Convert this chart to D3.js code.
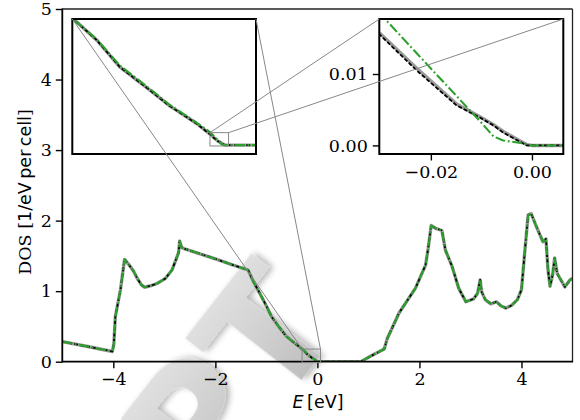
<!DOCTYPE html>
<html>
<head>
<meta charset="utf-8">
<script src="https://cdn.jsdelivr.net/npm/d3@7"></script>
<style>
  html, body { margin: 0; padding: 0; background: #fff; }
  svg { display: block; }
  .tick text { font-family: "DejaVu Serif", serif; font-size: 17.5px; fill: #000; }
  .tick line { stroke: #000; stroke-width: 1.4px; }
</style>
</head>
<body>
<svg id="chart" width="580" height="420"></svg>
<script>
// Energy grid (eV); finer spacing around the band edge at E = 0
const energy = [
  -5.00, -4.50, -4.02, -3.99, -3.96, -3.86, -3.78, -3.70, -3.60, -3.53,
  -3.45, -3.39, -3.25, -3.14, -2.98, -2.85, -2.77, -2.72, -2.70, -2.66,
  -2.60, -2.30, -1.97, -1.65, -1.36, -1.25, -1.13, -1.00, -0.90, -0.75,
  -0.61, -0.45, -0.35, -0.298, -0.252, -0.207, -0.148, -0.109, -0.057, -0.0301,
  -0.0228, -0.0149, -0.0103, -0.0076, -0.0057, -0.001, 0.000, 0.060, 0.85, 1.01,
  1.31, 1.37, 1.60, 1.92, 2.12, 2.17, 2.23, 2.32, 2.44, 2.51,
  2.64, 2.77, 2.91, 3.06, 3.14, 3.19, 3.22, 3.29, 3.40, 3.51,
  3.60, 3.70, 3.81, 3.92, 4.00, 4.05, 4.13, 4.19, 4.29, 4.42,
  4.48, 4.52, 4.56, 4.61, 4.65, 4.70, 4.85, 4.95, 5.00
];

// Reference DOS (grey, solid)
const dosReference = [
  0.285, 0.215, 0.145, 0.25, 0.64, 1.02, 1.45, 1.38, 1.28, 1.18,
  1.09, 1.055, 1.08, 1.11, 1.18, 1.30, 1.45, 1.55, 1.71, 1.62,
  1.60, 1.53, 1.45, 1.37, 1.30, 1.13, 0.97, 0.79, 0.64, 0.49,
  0.36, 0.265, 0.21, 0.179, 0.149, 0.111, 0.078, 0.0556, 0.031, 0.0157,
  0.0108, 0.0058, 0.0040, 0.0029, 0.00195, 0.0001, 0, 0, 0, 0.065,
  0.18, 0.33, 0.69, 1.04, 1.37, 1.60, 1.93, 1.89, 1.86, 1.58,
  1.35, 1.04, 0.85, 0.89, 0.97, 1.16, 0.99, 0.88, 0.82, 0.85,
  0.79, 0.76, 0.80, 0.88, 1.02, 1.44, 2.08, 2.10, 1.92, 1.70,
  1.74, 1.30, 1.07, 1.23, 1.47, 1.25, 1.06, 1.16, 1.18
];

// First approximation (black, dashed)
const dosApproxA = [
  0.285, 0.215, 0.145, 0.25, 0.64, 1.02, 1.45, 1.38, 1.28, 1.18,
  1.09, 1.055, 1.08, 1.11, 1.18, 1.30, 1.45, 1.55, 1.71, 1.62,
  1.60, 1.53, 1.45, 1.37, 1.30, 1.13, 0.97, 0.79, 0.64, 0.49,
  0.36, 0.265, 0.21, 0.179, 0.149, 0.111, 0.078, 0.0555, 0.0308, 0.0155,
  0.0105, 0.0056, 0.0039, 0.0028, 0.0018, 0.0000, 0, 0, 0, 0.065,
  0.18, 0.33, 0.69, 1.04, 1.37, 1.60, 1.93, 1.89, 1.86, 1.58,
  1.35, 1.04, 0.85, 0.89, 0.97, 1.16, 0.99, 0.88, 0.82, 0.85,
  0.79, 0.76, 0.80, 0.88, 1.02, 1.44, 2.08, 2.10, 1.92, 1.70,
  1.74, 1.30, 1.07, 1.23, 1.47, 1.25, 1.06, 1.16, 1.18
];

// Second approximation (green, dash-dot)
const dosApproxB = [
  0.285, 0.215, 0.145, 0.25, 0.64, 1.02, 1.45, 1.38, 1.28, 1.18,
  1.09, 1.055, 1.08, 1.11, 1.18, 1.30, 1.45, 1.55, 1.71, 1.62,
  1.60, 1.53, 1.45, 1.37, 1.30, 1.13, 0.97, 0.79, 0.64, 0.49,
  0.36, 0.265, 0.21, 0.179, 0.150, 0.113, 0.080, 0.057, 0.032, 0.0185,
  0.0129, 0.0069, 0.0034, 0.00126, 0.0007, 0.0002, 0, 0, 0, 0.065,
  0.18, 0.33, 0.69, 1.04, 1.37, 1.60, 1.93, 1.89, 1.86, 1.58,
  1.35, 1.04, 0.85, 0.89, 0.97, 1.16, 0.99, 0.88, 0.82, 0.85,
  0.79, 0.76, 0.80, 0.88, 1.02, 1.44, 2.08, 2.10, 1.92, 1.70,
  1.74, 1.30, 1.07, 1.23, 1.47, 1.25, 1.06, 1.16, 1.18
];

// Axis limits and ticks
const mainXLim = [-5, 5];
const mainYLim = [0, 5];
const mainXTicks = [-4, -2, 0, 2, 4];
const mainYTicks = [0, 1, 2, 3, 4, 5];
const zoomAXLim = [-0.30, 0.06];
const zoomAYLim = [-0.0126, 0.179];
const zoomBXLim = [-0.0302, 0.0062];
const zoomBYLim = [-0.0012, 0.0177];
const zoomBXTicks = [-0.02, 0.00];
const zoomBYTicks = [0.00, 0.01];

const svg = d3.select("#chart");
const defs = svg.append("defs");

// Layout boxes (pixels)
const mainBox = { left: 62.3, right: 572.5, top: 9, bottom: 361.7 };
const insetABox = { left: 72.3, right: 256, top: 19, bottom: 154 };
const insetBBox = { left: 379.3, right: 563.3, top: 19, bottom: 154 };

const series = [
  { values: dosReference, color: "#999999", width: 3.4, dash: null },
  { values: dosApproxA, color: "#000000", width: 1.8, dash: "4,2" },
  { values: dosApproxB, color: "#2ca02c", width: 2.1, dash: "10,2.7,1.8,2.7" }
];

// Watermark lettering behind the plot
const wmGrad = defs.append("linearGradient").attr("id", "wmGrad")
  .attr("x1", "0").attr("y1", "0").attr("x2", "0").attr("y2", "1");
wmGrad.append("stop").attr("offset", "0%").attr("stop-color", "#e8e8e8");
wmGrad.append("stop").attr("offset", "55%").attr("stop-color", "#cdcdcd");
wmGrad.append("stop").attr("offset", "100%").attr("stop-color", "#b3b3b3");
const wmBlur = defs.append("filter").attr("id", "wmShadow")
  .attr("x", "-20%").attr("y", "-20%").attr("width", "140%").attr("height", "140%");
wmBlur.append("feGaussianBlur").attr("in", "SourceAlpha").attr("stdDeviation", 3).attr("result", "b");
wmBlur.append("feOffset").attr("in", "b").attr("dx", 3).attr("dy", 3).attr("result", "o");
wmBlur.append("feComponentTransfer").attr("in", "o").attr("result", "s")
  .append("feFuncA").attr("type", "linear").attr("slope", 0.3);
const wmMerge = wmBlur.append("feMerge");
wmMerge.append("feMergeNode").attr("in", "s");
wmMerge.append("feMergeNode").attr("in", "SourceGraphic");

svg.append("text")
  .attr("transform", "translate(168,550) rotate(-52)")
  .attr("font-family", "DejaVu Sans")
  .attr("font-weight", "bold")
  .attr("font-size", 160)
  .attr("fill", "url(#wmGrad)")
  .attr("filter", "url(#wmShadow)")
  .text("IPT");

function makePanel(box, xLim, yLim, id) {
  const x = d3.scaleLinear().domain(xLim).range([box.left, box.right]);
  const y = d3.scaleLinear().domain(yLim).range([box.bottom, box.top]);
  defs.append("clipPath").attr("id", "clip-" + id)
    .append("rect")
    .attr("x", box.left).attr("y", box.top)
    .attr("width", box.right - box.left).attr("height", box.bottom - box.top);
  const g = svg.append("g").attr("class", "panel-" + id);
  return { x, y, g, box };
}

function drawCurves(panel, id) {
  const line = d3.line()
    .x((d, i) => panel.x(energy[i]))
    .y(d => panel.y(d));
  const cg = panel.g.append("g").attr("clip-path", "url(#clip-" + id + ")");
  series.forEach(s => {
    cg.append("path")
      .datum(s.values)
      .attr("d", line)
      .attr("fill", "none")
      .attr("stroke", s.color)
      .attr("stroke-width", s.width)
      .attr("stroke-dasharray", s.dash)
      .attr("stroke-linejoin", "round");
  });
}

// ---- main axes ----
const main = makePanel(mainBox, mainXLim, mainYLim, "main");
drawCurves(main, "main");

const xAxisMain = d3.axisBottom(main.x).tickValues(mainXTicks)
  .tickSize(6.5).tickPadding(4.5).tickFormat(d3.format("d"));
const yAxisMain = d3.axisLeft(main.y).tickValues(mainYTicks)
  .tickSize(6.5).tickPadding(4).tickFormat(d3.format("d"));
main.g.append("g").attr("transform", `translate(0,${mainBox.bottom})`).call(xAxisMain)
  .call(g => g.select(".domain").remove());
main.g.append("g").attr("transform", `translate(${mainBox.left},0)`).call(yAxisMain)
  .call(g => g.select(".domain").remove());

// main spines
main.g.append("line").attr("x1", mainBox.left).attr("x2", mainBox.right)
  .attr("y1", mainBox.top).attr("y2", mainBox.top).attr("stroke", "#222").attr("stroke-width", 1.3);
main.g.append("line").attr("x1", mainBox.right).attr("x2", mainBox.right)
  .attr("y1", mainBox.top).attr("y2", mainBox.bottom).attr("stroke", "#222").attr("stroke-width", 1.3);
main.g.append("line").attr("x1", mainBox.left).attr("x2", mainBox.right + 0.6)
  .attr("y1", mainBox.bottom).attr("y2", mainBox.bottom).attr("stroke", "#000").attr("stroke-width", 1.8);
main.g.append("line").attr("x1", mainBox.left).attr("x2", mainBox.left)
  .attr("y1", mainBox.top - 0.6).attr("y2", mainBox.bottom + 0.9).attr("stroke", "#000").attr("stroke-width", 1.8);

// axis labels
svg.append("text")
  .attr("x", 318).attr("y", 408)
  .attr("text-anchor", "middle")
  .attr("font-family", "DejaVu Sans").attr("font-size", 17.5)
  .call(t => {
    t.append("tspan").attr("font-style", "italic").text("E");
    t.append("tspan").text("\u2009[eV]");
  });

svg.append("text")
  .attr("transform", "translate(31,192) rotate(-90)")
  .attr("text-anchor", "middle")
  .attr("font-size", 17.5)
  .call(t => {
    t.append("tspan").attr("font-family", "DejaVu Serif").text("DOS [");
    t.append("tspan").attr("font-family", "DejaVu Sans").text("1/eV\u2009per\u2009cell");
    t.append("tspan").attr("font-family", "DejaVu Serif").text("]");
  });

// ---- inset A (no ticks) ----
const insA = makePanel(insetABox, zoomAXLim, zoomAYLim, "insA");
insA.g.append("rect")
  .attr("x", insetABox.left).attr("y", insetABox.top)
  .attr("width", insetABox.right - insetABox.left).attr("height", insetABox.bottom - insetABox.top)
  .attr("fill", "#fff");
drawCurves(insA, "insA");
insA.g.append("rect")
  .attr("x", insetABox.left).attr("y", insetABox.top)
  .attr("width", insetABox.right - insetABox.left).attr("height", insetABox.bottom - insetABox.top)
  .attr("fill", "none").attr("stroke", "#000").attr("stroke-width", 2);

// ---- inset B ----
const insB = makePanel(insetBBox, zoomBXLim, zoomBYLim, "insB");
insB.g.append("rect")
  .attr("x", insetBBox.left).attr("y", insetBBox.top)
  .attr("width", insetBBox.right - insetBBox.left).attr("height", insetBBox.bottom - insetBBox.top)
  .attr("fill", "#fff");
drawCurves(insB, "insB");
insB.g.append("g").attr("transform", `translate(0,${insetBBox.bottom})`)
  .call(d3.axisBottom(insB.x).tickValues(zoomBXTicks).tickSize(6.5).tickPadding(5).tickFormat(d3.format(".2f")))
  .call(g => g.select(".domain").remove());
insB.g.append("g").attr("transform", `translate(${insetBBox.left},0)`)
  .call(d3.axisLeft(insB.y).tickValues(zoomBYTicks).tickSize(6.5).tickPadding(5).tickFormat(d3.format(".2f")))
  .call(g => g.select(".domain").remove());
insB.g.append("rect")
  .attr("x", insetBBox.left).attr("y", insetBBox.top)
  .attr("width", insetBBox.right - insetBBox.left).attr("height", insetBBox.bottom - insetBBox.top)
  .attr("fill", "none").attr("stroke", "#000").attr("stroke-width", 2);

// ---- zoom indicators: source rectangles and connector lines ----
function indicate(parent, xLim, yLim, targetBox) {
  const x0 = parent.x(xLim[0]), x1 = parent.x(xLim[1]);
  const y0 = parent.y(yLim[1]), y1 = parent.y(yLim[0]);
  const layer = svg.append("g").attr("fill", "none").attr("stroke", "#888").attr("stroke-width", 1);
  layer.append("rect").attr("x", x0).attr("y", y0).attr("width", x1 - x0).attr("height", y1 - y0);
  layer.append("line").attr("x1", x0).attr("y1", y0).attr("x2", targetBox.left).attr("y2", targetBox.top);
  layer.append("line").attr("x1", x1).attr("y1", y0).attr("x2", targetBox.right).attr("y2", targetBox.top);
}
indicate(main, zoomAXLim, zoomAYLim, insetABox);
indicate(insA, zoomBXLim, zoomBYLim, insetBBox);
</script>
</body>
</html>
